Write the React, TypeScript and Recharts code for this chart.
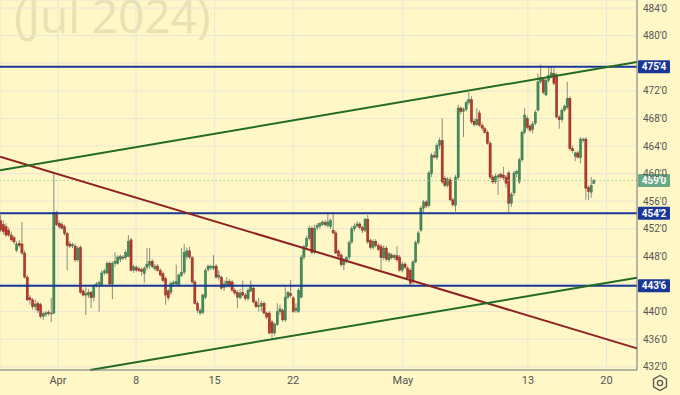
import React from 'react';
import { ComposedChart, Bar, XAxis, YAxis, CartesianGrid, ReferenceLine } from 'recharts';

// OHLC candles [open, high, low, close] in order
const segLateMarch: number[][] = [
  [453.2, 454.0, 451.5, 451.8], [452.6, 453.2, 451.2, 451.6], [452.3, 452.8, 450.8, 451.1], [451.8, 452.2, 450.8, 451.1],
  [451.1, 451.6, 450.2, 450.4], [450.7, 451.0, 449.8, 450.1], [448.9, 450.2, 448.6, 449.8], [449.9, 450.4, 449.3, 449.6],
  [449.8, 453.0, 448.2, 448.5], [448.5, 448.9, 444.8, 445.0], [445.0, 445.3, 441.5, 441.7], [442.0, 442.4, 441.0, 441.7],
  [441.7, 442.0, 440.3, 440.7], [440.7, 441.8, 440.2, 441.1], [441.2, 441.5, 439.8, 440.2], [441.0, 441.3, 439.0, 439.3],
  [439.3, 440.0, 438.8, 439.7], [439.6, 440.1, 439.2, 439.8], [439.9, 440.2, 439.4, 439.7], [439.7, 442.0, 438.5, 439.8],
  [439.8, 460.0, 439.6, 454.4], [454.4, 454.6, 452.4, 452.6], [452.8, 453.2, 452.0, 452.3], [452.6, 453.0, 451.9, 452.1],
  [452.3, 452.6, 451.0, 451.3], [451.3, 451.6, 446.0, 449.6], [449.8, 450.2, 449.2, 449.5], [449.5, 450.0, 449.2, 449.7],
  [449.5, 449.9, 447.2, 447.5], [447.5, 449.5, 447.2, 449.2], [449.3, 449.6, 442.6, 442.8], [443.0, 443.3, 442.2, 442.4],
  [442.4, 443.5, 439.5, 442.6], [442.4, 443.2, 442.0, 442.8], [442.8, 443.0, 440.5, 442.0], [442.1, 444.0, 441.5, 443.8],
  [443.8, 444.3, 443.5, 444.0], [444.0, 444.5, 440.0, 444.2], [443.9, 446.0, 443.6, 445.6], [445.6, 446.2, 445.3, 445.9],
  [445.6, 447.3, 445.4, 447.0],
];
const segEarlyApril: number[][] = [
  [447.0, 447.3, 443.6, 444.0], [444.0, 447.3, 441.8, 447.0], [447.0, 448.6, 446.5, 447.3], [447.0, 448.2, 446.8, 447.9],
  [447.6, 448.3, 447.2, 448.0], [447.9, 448.2, 447.5, 447.8], [447.8, 449.0, 447.5, 448.6], [448.0, 451.1, 447.9, 450.2],
  [450.4, 450.7, 445.8, 446.0], [446.0, 446.8, 445.6, 446.5], [446.4, 446.7, 445.8, 446.0], [446.2, 446.5, 445.7, 446.0],
  [446.1, 446.4, 445.2, 445.8], [445.5, 446.6, 444.2, 446.3], [446.4, 449.2, 446.0, 446.9], [446.7, 449.2, 446.2, 447.3],
  [447.3, 447.6, 446.3, 446.5], [446.2, 446.9, 445.9, 446.6], [446.6, 446.9, 445.8, 446.0], [446.0, 446.3, 445.1, 445.3],
  [445.5, 445.8, 444.3, 444.5], [444.8, 445.1, 441.0, 442.4], [443.0, 443.3, 441.6, 442.0], [442.8, 444.4, 442.4, 444.1],
  [444.0, 444.5, 443.6, 444.2], [444.0, 446.8, 443.7, 444.4], [443.9, 445.6, 443.6, 445.3], [445.2, 449.2, 445.0, 445.7],
  [445.7, 449.8, 445.4, 448.6], [448.0, 449.3, 447.6, 448.8], [448.8, 449.4, 447.6, 447.9], [447.8, 448.1, 444.0, 444.3],
  [444.3, 444.6, 441.0, 441.2], [441.2, 441.5, 439.8, 440.2], [439.8, 440.5, 439.5, 440.2], [439.9, 442.6, 439.6, 442.4],
  [442.1, 446.3, 441.8, 446.0], [446.1, 446.8, 445.8, 446.6], [446.4, 446.8, 446.0, 446.5],
];
const segMidApril: number[][] = [
  [446.3, 448.2, 446.0, 446.6], [446.6, 446.9, 444.8, 445.0], [445.0, 446.0, 444.5, 445.3], [445.0, 445.2, 443.2, 443.4],
  [443.5, 444.5, 443.0, 444.0], [443.9, 445.0, 443.5, 444.4], [444.4, 444.7, 443.5, 443.8], [444.3, 444.6, 442.9, 443.1],
  [443.1, 443.4, 442.4, 442.7], [442.8, 443.1, 440.5, 442.1], [442.0, 443.3, 441.8, 442.7], [442.8, 444.5, 442.2, 442.4],
  [442.4, 442.7, 441.6, 441.9], [441.9, 443.4, 441.6, 443.1], [443.0, 444.5, 442.8, 443.6], [443.4, 443.7, 441.2, 441.4],
  [441.4, 441.7, 440.5, 440.7], [440.7, 442.0, 440.0, 440.9], [440.8, 441.6, 440.0, 441.2], [441.2, 441.5, 439.6, 439.8],
  [439.8, 440.0, 438.9, 439.2], [439.8, 440.1, 436.7, 436.9], [438.5, 438.8, 436.2, 436.9], [436.9, 438.4, 436.5, 438.2],
  [438.1, 441.2, 437.9, 440.0], [440.0, 441.0, 439.5, 440.4], [440.2, 440.5, 438.5, 438.8], [438.8, 443.5, 438.5, 442.1],
  [442.1, 443.0, 441.8, 442.8], [442.6, 444.6, 442.0, 442.3], [442.0, 442.3, 439.8, 440.0], [440.2, 441.2, 439.8, 440.5],
  [440.0, 443.4, 439.8, 443.1], [442.1, 448.2, 441.9, 447.9], [447.9, 449.7, 447.5, 449.4], [449.4, 451.0, 449.0, 450.6],
  [450.6, 452.5, 450.3, 452.1], [452.1, 452.4, 448.3, 448.6], [448.6, 452.6, 448.3, 452.1],
];
const segLateApril: number[][] = [
  [452.2, 452.8, 451.8, 452.5], [452.4, 453.0, 452.0, 452.8], [452.6, 453.2, 452.4, 453.0], [452.9, 453.3, 452.3, 452.6],
  [452.5, 454.4, 452.2, 453.0], [452.3, 453.5, 452.0, 453.2], [451.8, 454.4, 451.2, 451.4], [451.4, 451.7, 448.3, 448.5],
  [448.8, 449.0, 447.6, 448.0], [448.2, 448.5, 446.5, 446.8], [446.8, 447.8, 446.0, 447.5], [447.4, 448.0, 447.0, 447.8],
  [447.9, 450.3, 447.5, 450.0], [450.1, 452.4, 449.8, 452.0], [452.0, 452.8, 451.6, 452.4], [452.4, 453.1, 452.2, 452.7],
  [452.7, 453.0, 451.9, 452.2], [452.2, 452.5, 451.4, 451.8], [451.8, 453.6, 451.5, 453.4], [453.4, 454.0, 449.8, 450.1],
  [450.3, 450.6, 449.0, 449.3], [449.3, 450.5, 449.0, 450.2], [450.2, 450.5, 449.3, 449.6], [449.6, 449.9, 448.8, 449.0],
  [449.4, 449.8, 446.0, 447.8], [447.8, 449.6, 447.5, 449.2], [449.2, 449.5, 447.3, 447.6], [447.5, 448.6, 447.2, 448.4],
  [448.2, 448.5, 447.6, 447.8], [447.8, 448.4, 447.5, 448.1], [448.1, 449.5, 447.2, 447.5], [447.9, 448.2, 445.8, 446.0],
  [446.0, 447.2, 445.7, 446.9], [446.9, 447.2, 446.2, 446.4], [446.3, 446.6, 444.7, 444.9], [446.0, 446.3, 443.8, 444.1],
  [444.3, 447.5, 443.9, 447.2], [447.2, 450.3, 447.0, 450.0], [450.0, 451.7, 449.7, 451.4], [451.8, 455.3, 451.5, 455.0],
  [455.0, 456.2, 454.3, 455.9],
];
const segEarlyMay: number[][] = [
  [455.9, 456.2, 455.0, 455.3], [455.4, 460.4, 455.1, 460.1], [460.0, 463.0, 459.5, 462.7], [462.6, 463.2, 462.2, 462.4],
  [462.3, 464.4, 462.0, 464.1], [464.1, 465.2, 463.5, 464.8], [464.8, 468.0, 458.5, 458.8], [459.3, 459.7, 458.0, 458.3],
  [458.3, 459.5, 458.0, 459.2], [459.1, 459.5, 456.0, 456.2], [456.2, 456.5, 455.2, 455.5], [455.4, 459.8, 454.5, 459.5],
  [459.4, 470.0, 459.0, 469.5], [469.5, 469.8, 468.6, 469.0], [469.0, 469.6, 465.3, 469.3], [469.3, 470.6, 469.0, 470.3],
  [470.3, 471.8, 470.0, 470.7], [470.7, 471.2, 467.2, 467.5], [467.6, 468.0, 466.8, 467.1], [467.1, 469.5, 466.9, 467.8],
  [468.8, 469.2, 466.8, 467.0], [467.0, 467.4, 466.2, 466.6], [466.5, 466.8, 465.8, 466.0], [466.0, 466.3, 464.2, 464.4],
  [464.4, 464.7, 459.2, 459.5], [459.5, 459.8, 458.5, 458.8], [458.8, 460.0, 458.5, 459.6], [459.5, 460.0, 456.9, 459.7],
  [459.9, 460.2, 459.2, 459.5], [459.8, 461.0, 459.0, 459.4], [459.5, 459.8, 458.0, 458.6], [460.1, 460.4, 454.3, 455.7],
  [455.7, 457.3, 455.2, 457.0], [457.2, 460.4, 456.8, 460.1], [460.0, 460.6, 459.5, 460.3], [458.8, 462.3, 458.5, 462.0],
  [462.0, 466.3, 461.7, 466.0], [466.0, 469.5, 465.7, 468.5],
];
const segMidMay: number[][] = [
  [468.0, 468.4, 466.4, 466.7], [466.9, 467.2, 466.0, 466.3], [466.4, 467.6, 465.8, 467.2], [467.3, 469.2, 467.0, 468.9],
  [469.2, 474.5, 469.0, 473.3], [473.3, 475.8, 473.0, 473.9], [473.6, 474.0, 471.5, 471.8], [471.4, 473.8, 471.2, 473.5],
  [473.5, 475.6, 473.2, 474.2], [474.2, 475.6, 473.8, 474.6], [474.5, 475.3, 472.8, 473.1], [474.3, 474.6, 468.0, 468.2],
  [468.2, 468.5, 466.5, 467.8], [467.8, 469.5, 467.4, 469.2], [469.2, 470.0, 469.0, 469.8], [469.6, 473.3, 469.3, 470.9],
  [470.9, 471.2, 463.3, 463.6], [463.6, 464.0, 463.0, 463.3], [462.5, 463.2, 461.8, 463.0], [463.0, 463.3, 462.1, 462.4],
  [462.3, 465.3, 461.5, 465.0], [464.8, 465.2, 464.5, 465.0], [465.0, 465.3, 456.2, 457.9], [458.0, 458.3, 456.2, 457.4],
  [457.3, 459.5, 456.5, 458.3], [458.6, 459.2, 458.5, 459.0],
];

const candles = [...segLateMarch, ...segEarlyApril, ...segMidApril, ...segLateApril, ...segEarlyMay, ...segMidMay].map(
  (c, i) => ({ i, o: c[0], h: c[1], l: c[2], c: c[3], range: [c[2], c[1]] })
);

// x axis (bar index) domain and date tick positions
const xDomain = [-0.376, 239.1];
const dateTickPos = [21.4, 50.75, 80.3, 109.8, 151.1, 198.1, 227.6];
const dateTickLabels = ['Apr', '8', '15', '22', 'May', '13', '20'];

// price axis
const yDomain = [431.54, 485.16];
const priceTicks = [432, 436, 440, 444, 448, 452, 456, 460, 464, 468, 472, 476, 480, 484];
const hiddenPriceTicks = [444, 476];

// horizontal levels
const levelPrices = [475.5, 454.25, 443.75];
const levelLabels = ["475'4", "454'2", "443'6"];
const lastPrice = 459;
const lastLabel = "459'0";

// trend lines (bar index, price)
const trendUpper = [{ x: -0.376, y: 460.5 }, { x: 239.1, y: 476.17 }];
const trendLower = [{ x: 33.5, y: 431.54 }, { x: 239.1, y: 444.91 }];
const trendDown = [{ x: -0.376, y: 462.45 }, { x: 239.1, y: 434.68 }];

const W = 680;
const H = 395;
const BG = '#fff8c6';
const BLUE = '#1a3798';
const GREEN_LINE = '#236b23';
const RED_LINE = '#8e2222';

const Candle = (props: any) => {
  const { x, y, width, height, payload } = props;
  if (!payload) return null;
  const { o, h, l, c } = payload;
  const top = Math.min(y, y + height);
  const hgt = Math.abs(height);
  const ratio = h - l > 0 ? hgt / (h - l) : 0;
  const bTop = top + (h - Math.max(o, c)) * ratio;
  const bBot = top + (h - Math.min(o, c)) * ratio;
  const cx = x + width / 2;
  const up = c >= o;
  return (
    <g>
      <line x1={cx} x2={cx} y1={top} y2={top + hgt} stroke="#8c8c80" strokeWidth={1} />
      <rect
        x={cx - 1.1}
        y={bTop}
        width={2.2}
        height={Math.max(1, bBot - bTop)}
        fill={up ? '#3f8d5d' : '#b8382a'}
        stroke={up ? '#2c6a43' : '#7f2218'}
        strokeWidth={0.4}
      />
    </g>
  );
};

const PriceTag = (props: any) => {
  const { viewBox, text, color } = props;
  if (!viewBox) return null;
  const x = viewBox.x + viewBox.width;
  const y = viewBox.y;
  return (
    <g>
      <rect x={x + 1} y={y - 6.5} width={32} height={13} fill={color} rx={1} />
      <text x={x + 17} y={y + 3.5} textAnchor="middle" fill="#fff" fontSize={10} fontWeight="bold" fontFamily="Roboto">
        {text}
      </text>
    </g>
  );
};

export default function App() {
  return (
    <div style={{ position: 'absolute', left: 0, top: 0, width: W, height: H, background: BG, overflow: 'hidden', fontFamily: 'Roboto' }}>
      <div
        style={{
          position: 'absolute',
          left: 14,
          top: -15,
          fontSize: 46,
          fontFamily: '"Open Sans"',
          color: '#e9e1b3',
          whiteSpace: 'nowrap',
          lineHeight: '60px',
        }}
      >
        (Jul 2024)
      </div>
      <div style={{ position: 'absolute', left: 0, top: 0 }}>
        <ComposedChart width={W} height={H} data={candles} margin={{ top: 0, right: 0, bottom: 0, left: 0 }}>
          <CartesianGrid stroke="#e8e5d8" strokeWidth={1} />
          <XAxis
            dataKey="i"
            type="number"
            domain={xDomain}
            allowDataOverflow
            ticks={dateTickPos}
            tickFormatter={(v: number) => dateTickLabels[dateTickPos.indexOf(v)] ?? ''}
            height={25}
            tickLine={false}
            tickSize={5}
            tickMargin={1}
            axisLine={{ stroke: '#7a7a72' }}
            tick={{ fontSize: 11, fill: '#555' }}
            interval={0}
          />
          <YAxis
            orientation="right"
            type="number"
            domain={yDomain}
            allowDataOverflow
            ticks={priceTicks}
            tickFormatter={(v: number) => (hiddenPriceTicks.includes(v) ? '' : `${v}'0`)}
            width={43}
            tickLine={false}
            tickSize={4}
            tickMargin={2}
            axisLine={{ stroke: '#7a7a72' }}
            tick={{ fontSize: 10, fill: '#555' }}
            interval={0}
          />
          <ReferenceLine
            y={lastPrice}
            stroke="#9cc59a"
            strokeDasharray="1.5 2.5"
            strokeWidth={1.2}
            label={<PriceTag text={lastLabel} color="#6aa985" />}
          />
          {levelPrices.map((p, k) => (
            <ReferenceLine key={k} y={p} stroke={BLUE} strokeWidth={2} label={<PriceTag text={levelLabels[k]} color={BLUE} />} />
          ))}
          <ReferenceLine segment={trendDown} stroke={RED_LINE} strokeWidth={2} ifOverflow="visible" />
          <ReferenceLine segment={trendUpper} stroke={GREEN_LINE} strokeWidth={2} ifOverflow="visible" />
          <ReferenceLine segment={trendLower} stroke={GREEN_LINE} strokeWidth={2} ifOverflow="visible" />
          <Bar dataKey="range" barSize={2} shape={<Candle />} isAnimationActive={false} />
        </ComposedChart>
      </div>
      <svg style={{ position: 'absolute', left: 651, top: 374 }} width={18} height={18}>
        <path d="M9 1.5 L15.5 5.25 L15.5 12.75 L9 16.5 L2.5 12.75 L2.5 5.25 Z" fill="none" stroke="#555" strokeWidth={1.3} />
        <circle cx={9} cy={9} r={2.6} fill="none" stroke="#555" strokeWidth={1.3} />
      </svg>
    </div>
  );
}
